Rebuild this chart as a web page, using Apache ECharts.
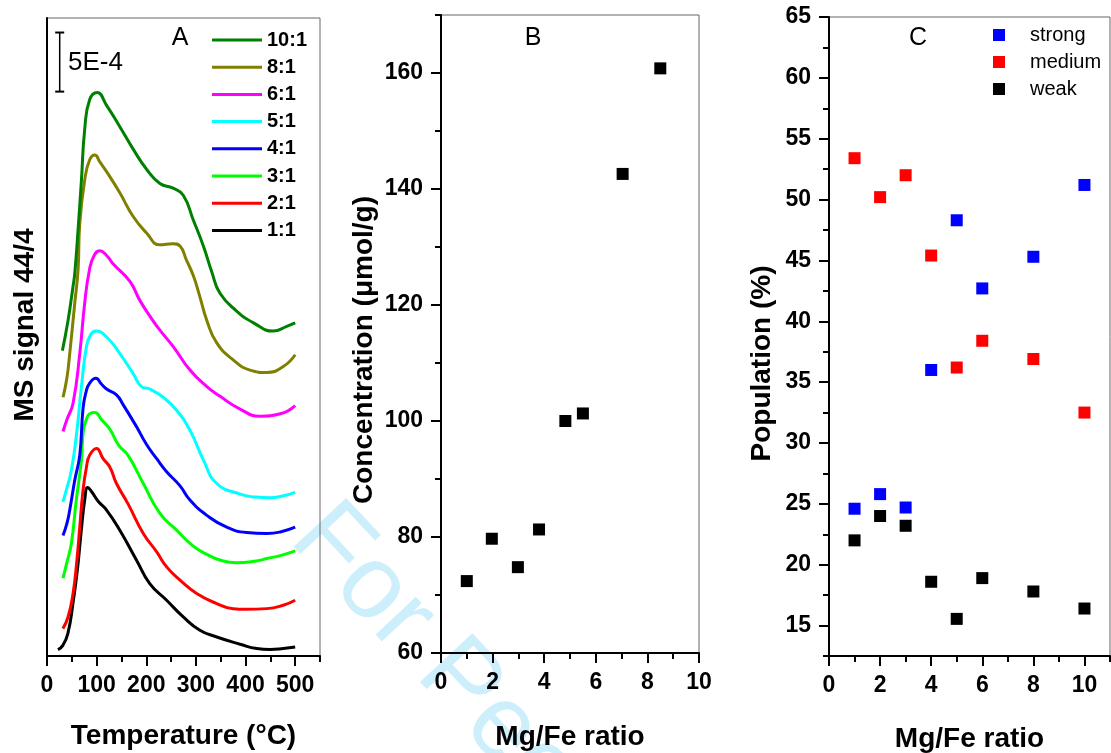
<!DOCTYPE html>
<html><head><meta charset="utf-8">
<script src="https://cdn.jsdelivr.net/npm/echarts@6/dist/echarts.min.js"></script>
<style>html,body{margin:0;padding:0;background:#fff}#c{width:1111px;height:753px}</style>
</head><body><div id="c"></div>
<script>
// ---------- Panel A: MS signal 44/4 vs temperature (values in units of 1E-4, offset stacked) ----------
const ratioLabels = ['10:1','8:1','6:1','5:1','4:1','3:1','2:1','1:1'];
const ratioColors = ['#008000','#808000','#ff00ff','#00ffff','#0000ff','#00ff00','#ff0000','#000000'];
const curve_10_1 = [[31,25.85],[42.4,28.4],[52.5,31.3],[56,32.4],[62.6,36.1],[69.4,40.3],[76,44.6],[86,47.1],[101,47.7],[120,46.6],[146.7,44.8],[173.6,42.9],[200.6,41.2],[227.5,40.0],[254,39.6],[274.5,39.0],[294.7,36.9],[315,34.7],[332,32.5],[348.5,30.7],[382,29.2],[416,28.2],[456,27.5],[483,27.9],[500,28.2]];
const curve_8_1 = [[32.3,21.9],[40,23.5],[45.8,25.6],[56,29.9],[62.6,32.7],[66,36.6],[76,40.3],[86,42.0],[96.3,42.4],[106.7,41.8],[120,41.0],[146.7,39.2],[173.6,37.2],[200.6,35.8],[227.5,34.8],[254,34.9],[268,34.7],[281,33.5],[294.7,32.2],[308,30.4],[322,28.4],[342,26.5],[375,25.06],[409,24.2],[443,24.0],[476,24.5],[500,25.5]];
const curve_6_1 = [[32.3,19.0],[40,20.0],[52.5,21.4],[66,25.6],[76,29.9],[86,32.8],[95,33.9],[106,34.3],[120,33.9],[133,33.2],[167,31.7],[187,30.1],[210,28.6],[227,27.6],[254,26.2],[288,24.2],[322,22.8],[348,22.0],[389,20.9],[429,20.3],[470,20.5],[500,21.2]];
const curve_5_1 = [[32.3,13.05],[40,14.2],[49,15.7],[59,18.6],[69.4,22.8],[79.5,26.2],[88,27.2],[98.3,27.5],[120,27.0],[146.7,25.6],[173.6,23.9],[190.5,22.8],[207,22.6],[234,21.9],[261,20.8],[288,19.1],[315,16.6],[342,14.6],[389,13.7],[420,13.45],[449,13.4],[475,13.55],[500,13.85]];
const curve_4_1 = [[32.3,10.2],[40,11.2],[45.8,12.35],[56,14.9],[66,17.0],[72.7,21.0],[79,22.4],[86,23.1],[98.3,23.5],[110,23.0],[120,22.6],[140,22.1],[153,21.3],[180.4,19.4],[200.6,17.9],[221,16.7],[241,15.6],[268,14.4],[288,13.2],[322,11.9],[362,10.9],[402,10.45],[443,10.37],[470,10.5],[500,10.9]];
const curve_3_1 = [[32.3,6.6],[40,7.9],[49,9.5],[59,13.2],[69.4,16.6],[73,19.0],[80,20.1],[86,20.5],[96.3,20.6],[110,20.0],[126.5,19.2],[145,17.8],[163,17.0],[194,14.6],[227.5,12.07],[261,10.65],[294.7,9.3],[322,8.6],[350,8.1],[382,7.9],[422,8.05],[443,8.25],[470,8.5],[500,8.9]];
const curve_2_1 = [[32,2.32],[42.4,3.3],[52.5,5.29],[60,8.0],[66,10.9],[72,13.8],[79.5,16.0],[86,17.0],[99.7,17.57],[113,16.7],[126.5,16.0],[140,14.6],[163,12.9],[194,10.37],[221,8.81],[241,7.54],[268,6.42],[301.5,5.29],[342,4.44],[375,4.0],[400,3.95],[443,4.01],[476,4.3],[500,4.72]];
const curve_1_1 = [[22,0.54],[32,0.9],[42,1.9],[52.5,4.5],[62,7.6],[69,10.6],[76,13.2],[82,14.27],[90,13.9],[103,13.1],[120,12.35],[146.7,10.65],[180.4,8.11],[207,6.13],[241,4.72],[274.5,3.31],[308,2.18],[342,1.61],[389,1.0],[422.6,0.63],[449,0.55],[476,0.63],[500,0.76]];
const curvesA = [curve_10_1, curve_8_1, curve_6_1, curve_5_1, curve_4_1, curve_3_1, curve_2_1, curve_1_1];
const scaleBar = [[25.6,47.77],[25.6,52.77]];   // 5E-4 bar
const tempMajorTicks = [0,100,200,300,400,500];
const tempMinorTicks = [50,150,250,350,450,550];

// ---------- Panel B: concentration vs Mg/Fe ----------
const mgFeB = [1.0,1.97,2.98,3.8,4.82,5.5,7.04,8.5];
const concentrationB = [72.4,79.7,74.8,81.3,100.0,101.3,142.6,160.8];
const ratioMajorB = [0,2,4,6,8,10];
const ratioMinorB = [1,3,5,7,9];
const concMajor = [60,80,100,120,140,160];
const concMinor = [70,90,110,130,150,170];

// ---------- Panel C: population vs Mg/Fe ----------
const mgFeC = [1,2,3,4,5,6,8,10];
const strongPct = [24.6,25.8,24.7,36.0,48.3,42.7,45.3,51.2];
const mediumPct = [53.4,50.2,52.0,45.4,36.2,38.4,36.9,32.5];
const weakPct = [22.0,24.0,23.2,18.6,15.55,18.9,17.8,16.4];
const ratioMajorC = [0,2,4,6,8,10];
const ratioMinorC = [1,3,5,7,9,11];
const popMajor = [15,20,25,30,35,40,45,50,55,60,65];
const popMinor = [12.5,17.5,22.5,27.5,32.5,37.5,42.5,47.5,52.5,57.5,62.5];

const FF = 'Liberation Sans, Arial, sans-serif';
const zip = (xs, ys) => xs.map((x, i) => [x, ys[i]]);

function axisPair(gridIndex, pos, min, max, interval, majors, minors, nameOpt) {
  const primary = Object.assign({
    type: 'value', gridIndex, position: pos, offset: 0, min, max, interval,
    axisLine: {show: true, onZero: false, lineStyle: {color: '#000', width: 2}},
    axisTick: {show: true, inside: false, length: 10, customValues: majors, lineStyle: {color: '#000', width: 2}},
    axisLabel: {show: true, customValues: majors, fontSize: 23, fontWeight: 'bold', color: '#000', fontFamily: FF, margin: 18},
    splitLine: {show: false}
  }, nameOpt || {});
  const minor = {
    type: 'value', gridIndex, position: pos, offset: 0, min, max, interval,
    axisLine: {show: false, onZero: false},
    axisTick: {show: true, inside: false, length: 6, customValues: minors, lineStyle: {color: '#000', width: 2}},
    axisLabel: {show: false},
    splitLine: {show: false}
  };
  return [primary, minor];
}
const xName = (text, gap) => ({name: text, nameLocation: 'middle', nameGap: gap,
  nameTextStyle: {fontSize: 28, fontWeight: 'bold', color: '#000', fontFamily: FF}});
const yName = (text, gap, size, pad) => ({name: text, nameLocation: 'middle', nameGap: gap,
  nameTextStyle: {fontSize: size, fontWeight: 'bold', color: '#000', fontFamily: FF, padding: pad}});

const gridBase = {show: true, borderColor: '#666', borderWidth: 1, backgroundColor: 'transparent', containLabel: false, outerBoundsMode: 'none'};
const grids = [
  Object.assign({left: 47, top: 18, width: 273, height: 638}, gridBase),
  Object.assign({left: 441, top: 15, width: 258, height: 638}, gridBase),
  Object.assign({left: 829, top: 17, width: 281, height: 639}, gridBase)
];

const xAxes = [
  ...axisPair(0, 'bottom', 0, 550, 50, tempMajorTicks, tempMinorTicks, xName('Temperature (°C)', 66)),
  ...axisPair(1, 'bottom', 0, 10, 1, ratioMajorB, ratioMinorB, xName('Mg/Fe ratio', 70)),
  ...axisPair(2, 'bottom', 0, 11, 1, ratioMajorC, ratioMinorC, xName('Mg/Fe ratio', 69))
];
const yAxes = [
  Object.assign({type: 'value', gridIndex: 0, position: 'left', min: 0, max: 54,
    axisLine: {show: true, onZero: false, lineStyle: {color: '#000', width: 2}},
    axisTick: {show: false}, axisLabel: {show: false}, splitLine: {show: false}}, yName('MS signal 44/4', 8, 28, [0, 0, 0, 24])),
  ...axisPair(1, 'left', 60, 170, 10, concMajor, concMinor, yName('Concentration (μmol/g)', 63, 28, [0, 32, 0, 0])),
  ...axisPair(2, 'left', 12.5, 65, 2.5, popMajor, popMinor, yName('Population (%)', 53, 28, [0, 54, 0, 0]))
];

const seriesA = curvesA.map((d, i) => ({
  name: ratioLabels[i], type: 'line', xAxisIndex: 0, yAxisIndex: 0, data: d,
  symbol: 'none', smooth: 0.5, color: ratioColors[i],
  lineStyle: {color: ratioColors[i], width: 3}, z: 10 - i
}));
const series = [
  ...seriesA,
  {name: 'scale', type: 'line', xAxisIndex: 0, yAxisIndex: 0, data: scaleBar,
   symbol: 'rect', symbolSize: [9, 2], showSymbol: true, color: '#000',
   lineStyle: {color: '#000', width: 1.5}, itemStyle: {color: '#000'}, silent: true},
  {name: 'concentration', type: 'scatter', xAxisIndex: 2, yAxisIndex: 1, data: zip(mgFeB, concentrationB),
   symbol: 'rect', symbolSize: 12, itemStyle: {color: '#000', opacity: 1}},
  {name: 'strong', type: 'scatter', xAxisIndex: 4, yAxisIndex: 3, data: zip(mgFeC, strongPct),
   symbol: 'rect', symbolSize: 12, itemStyle: {color: '#0000ff', opacity: 1}},
  {name: 'medium', type: 'scatter', xAxisIndex: 4, yAxisIndex: 3, data: zip(mgFeC, mediumPct),
   symbol: 'rect', symbolSize: 12, itemStyle: {color: '#ff0000', opacity: 1}},
  {name: 'weak', type: 'scatter', xAxisIndex: 4, yAxisIndex: 3, data: zip(mgFeC, weakPct),
   symbol: 'rect', symbolSize: 12, itemStyle: {color: '#000000', opacity: 1}}
];

const chart = echarts.init(document.getElementById('c'), null, {renderer: 'canvas'});
chart.setOption({
  animation: false,
  backgroundColor: '#fff',
  textStyle: {fontFamily: FF},
  grid: grids,
  xAxis: xAxes,
  yAxis: yAxes,
  legend: [
    {data: ratioLabels, orient: 'vertical', left: 212, top: 30, padding: 0,
     icon: 'rect', itemWidth: 50, itemHeight: 3, itemGap: 7.2, selectedMode: false,
     textStyle: {fontSize: 20, fontWeight: 'bold', color: '#000', fontFamily: FF, lineHeight: 20}},
    {data: ['strong', 'medium', 'weak'], orient: 'vertical', left: 993, top: 25, padding: 0,
     icon: 'rect', itemWidth: 12, itemHeight: 12, itemGap: 7, selectedMode: false,
     textStyle: {fontSize: 20, color: '#000', fontFamily: FF, lineHeight: 20, padding: [0, 0, 0, 20]}}
  ],
  graphic: [
    {type: 'text', x: 309, y: 521, rotation: -0.82, z: -10, silent: true,
     style: {text: 'For Peer Review', fontSize: 104, fontFamily: FF, fill: '#cdeefb', align: 'left', verticalAlign: 'middle'}},
    {type: 'text', x: 180, y: 38, style: {text: 'A', fontSize: 25, fontFamily: FF, fill: '#000', align: 'center', verticalAlign: 'middle'}},
    {type: 'text', x: 533, y: 38, style: {text: 'B', fontSize: 25, fontFamily: FF, fill: '#000', align: 'center', verticalAlign: 'middle'}},
    {type: 'text', x: 918, y: 38, style: {text: 'C', fontSize: 25, fontFamily: FF, fill: '#000', align: 'center', verticalAlign: 'middle'}},
    {type: 'text', x: 68, y: 63, style: {text: '5E-4', fontSize: 26, fontFamily: FF, fill: '#000', align: 'left', verticalAlign: 'middle'}}
  ],
  series
});
</script></body></html>
